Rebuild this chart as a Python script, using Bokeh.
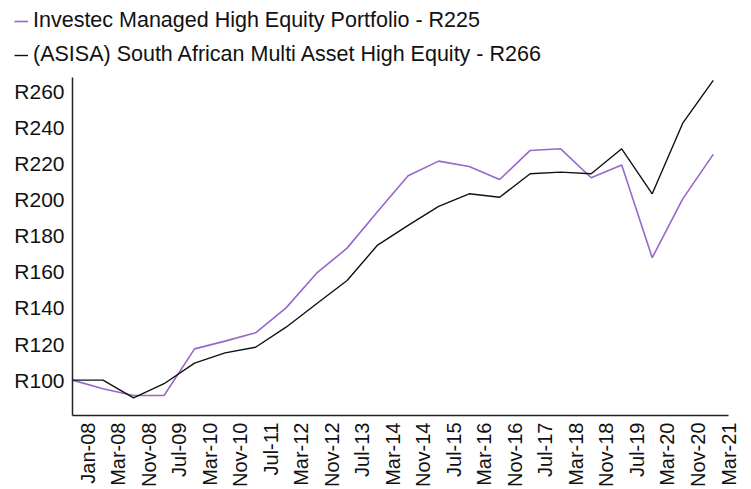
from bokeh.plotting import figure
from bokeh.layouts import column
from bokeh.models import Range1d, Legend, LegendItem, FixedTicker
from bokeh.embed import file_html
from bokeh.resources import INLINE

dates = ["Jan-08", "Mar-08", "Nov-08", "Jul-09", "Mar-10", "Nov-10", "Jul-11", "Mar-12",
         "Nov-12", "Jul-13", "Mar-14", "Nov-14", "Jul-15", "Mar-16", "Nov-16", "Jul-17",
         "Mar-18", "Nov-18", "Jul-19", "Mar-20", "Nov-20", "Mar-21"]
investec = [100, 95.2, 91.5, 91.5, 117.3, 121.6, 126.2, 140, 159.2, 173.1, 193.4, 213.2,
            221.3, 218.3, 211.1, 227.2, 228.1, 212.1, 219.1, 167.8, 200.4, 225]
asisa = [100, 100, 90.2, 98, 109.4, 115.1, 118.2, 129.3, 142.3, 155.2, 174.8, 185.7,
         196.2, 203.2, 201.3, 214.3, 215.2, 214.3, 228.1, 203.2, 242.3, 266]
series_names = ["Investec Managed High Equity Portfolio - R225",
                "(ASISA) South African Multi Asset High Equity - R266"]
colors = ["#9966cc", "#111111"]
y_ticks = [100, 120, 140, 160, 180, 200, 220, 240, 260]

FONT = "Liberation Sans"
xs = list(range(len(dates)))

# ---- legend strip (its own figure; the series lie outside its visible range) ----
lg = figure(width=751, height=77, output_backend="svg", toolbar_location=None,
            x_range=Range1d(0, 1), y_range=Range1d(0, 1),
            x_axis_type=None, y_axis_type=None, min_border=0)
lg.frame_align = False
lg.outline_line_color = None
lg.grid.grid_line_color = None
d1 = lg.line(xs, investec, line_color=colors[0], line_width=1.6)
d2 = lg.line(xs, asisa, line_color=colors[1], line_width=1.4)
legend = Legend(items=[LegendItem(label=series_names[0], renderers=[d1]),
                       LegendItem(label=series_names[1], renderers=[d2])],
                location=(14, 10), orientation="vertical",
                label_text_font=FONT, label_text_font_size="21.5px", label_text_color="#111111",
                glyph_width=14, glyph_height=20, label_height=20, label_standoff=5,
                spacing=9, padding=0, margin=0,
                border_line_alpha=0, background_fill_alpha=0)
lg.add_layout(legend)

# ---- main chart ----
p = figure(width=751, height=412, output_backend="svg", toolbar_location=None,
           x_range=Range1d(0, 21.5), y_range=Range1d(80.4, 267.6),
           min_border_left=72, min_border_right=23, min_border_top=0, min_border_bottom=74)
p.frame_align = False
p.outline_line_color = None
p.grid.grid_line_color = None

p.line(xs, investec, line_color=colors[0], line_width=1.6)
p.line(xs, asisa, line_color=colors[1], line_width=1.4)

# x axis: labels centered between points
p.xaxis.ticker = FixedTicker(ticks=[x + 0.5 for x in xs])
p.xaxis.major_label_overrides = {x + 0.5: d for x, d in zip(xs, dates)}
p.xaxis.major_label_orientation = 3.14159265 / 2
p.xaxis.major_label_text_font = FONT
p.xaxis.major_label_text_font_size = "20px"
p.xaxis.major_label_text_color = "#111111"
p.xaxis.major_label_standoff = 7
p.xaxis.major_tick_out = 0
p.xaxis.major_tick_in = 0
p.xaxis.major_tick_line_color = None
p.xaxis.minor_tick_line_color = None
p.xaxis.axis_line_color = "#222222"
p.xaxis.axis_line_width = 1.5

p.yaxis.ticker = FixedTicker(ticks=y_ticks)
p.yaxis.major_label_overrides = {v: "R%d" % v for v in y_ticks}
p.yaxis.major_label_text_font = FONT
p.yaxis.major_label_text_font_size = "21px"
p.yaxis.major_label_text_color = "#111111"
p.yaxis.major_label_standoff = 8
p.yaxis.major_tick_out = 0
p.yaxis.major_tick_in = 0
p.yaxis.major_tick_line_color = None
p.yaxis.minor_tick_line_color = None
p.yaxis.axis_line_color = "#222222"
p.yaxis.axis_line_width = 1.5

layout = column(lg, p, spacing=0)
open("out.html", "w").write(file_html(layout, INLINE))
